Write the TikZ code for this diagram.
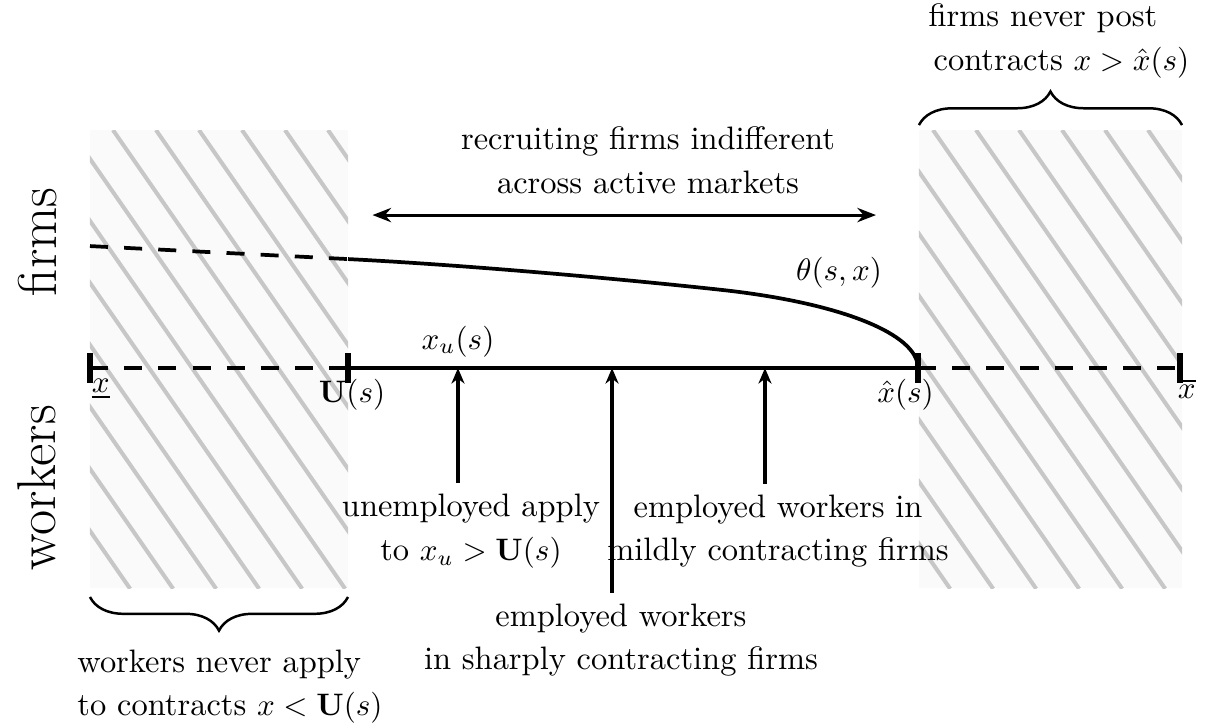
\documentclass[tikz,border=0pt]{standalone}
\usepackage{amsmath,amssymb}
\usetikzlibrary{arrows.meta,decorations.pathreplacing,positioning}

\begin{document}
\begin{tikzpicture}[
    font=\fontsize{10.45}{12.6}\selectfont,
    >=Stealth,
    axis/.style       = {line width=1.4pt},
    axis-dash/.style  = {axis, dash pattern=on 5.8pt off 5.2pt},
    tickmark/.style   = {line width=1.7pt},
    theta/.style      = {line width=1.2pt},
    theta-dash/.style = {theta, dash pattern=on 5.8pt off 5.2pt},
    pointer/.style    = {line width=1.3pt, -{Stealth[length=5pt, width=4.2pt, inset=1.6pt]}},
    across/.style     = {line width=1pt, {Stealth[length=6pt, width=4.6pt, inset=2pt]}-{Stealth[length=6pt, width=4.6pt, inset=2pt]}},
    excluded/.style   = {fill=black!2},
    hatch/.style      = {black!22, line width=1.3pt},
    bracket/.style    = {thick, decorate, decoration={brace, amplitude=0.38cm}},
    side/.style       = {font=\fontsize{17.6}{21}\selectfont, rotate=90},
    note/.style       = {align=center}
  ]
\useasboundingbox (0,0) rectangle (13.689,8.225);

% =========================================================
% Excluded regions (hatched)
% =========================================================
\fill[excluded] (1.018,1.572) rectangle (3.937,6.754);
\begin{scope}
  \clip (1.018,1.572) rectangle (3.937,6.754);
  \foreach \i in {-8,...,6} {\draw[hatch] ({1.278+\i*0.4865},6.754) -- ++(3.6,-5.19);}
\end{scope}

\fill[excluded] (10.396,1.572) rectangle (13.372,6.754);
\begin{scope}
  \clip (10.396,1.572) rectangle (13.372,6.754);
  \foreach \i in {-8,...,6} {\draw[hatch] ({10.555+\i*0.4865},6.754) -- ++(3.6,-5.19);}
\end{scope}

% =========================================================
% Contract axis
% =========================================================
\coordinate (xlow)  at (1.018,4.061);
\coordinate (U)     at (3.937,4.061);
\coordinate (xhat)  at (10.385,4.061);
\coordinate (xhigh) at (13.349,4.061);
\coordinate (a1)    at (5.181,4.061);
\coordinate (a2)    at (6.924,4.061);
\coordinate (a3)    at (8.654,4.061);

\draw[axis-dash] (xlow) -- (U);
\draw[axis] (U) -- (xhat);
\draw[axis-dash] (xhat) -- (xhigh);
\foreach \p in {xlow,U,xhat,xhigh} {\draw[tickmark] (\p) ++(0,0.165) -- ++(0,-0.33);}

\node[below, xshift=3.5pt] (lbl-xlow)  at (xlow)  {$\underline{x}$};
\node[below, xshift=1.3pt] (lbl-U)     at (U)     {$\mathbf{U}(s)$};
\node[below, xshift=-4pt]  (lbl-xhat)  at (xhat)  {$\hat{x}(s)$};
\node[below, xshift=2.2pt] (lbl-xhigh) at (xhigh) {$\overline{x}$};

% Market tightness theta(s,x)
\coordinate (th0) at (1.018,5.441);
\coordinate (thU) at (3.937,5.294);
\coordinate (thm) at (8.176,4.944);
\draw[theta-dash] (th0) -- (thU);
\draw[theta] (thU) .. controls (5.3,5.225) and (7.1,5.062) .. (thm)
                   .. controls (9.5,4.798) and (10.385,4.45) .. (xhat);
\node (theta-lbl) at (9.492,5.136) {$\theta(s,x)$};

% =========================================================
% Firms side
% =========================================================
\coordinate (mk-l) at (4.214,5.792);
\coordinate (mk-r) at (9.910,5.792);
\draw[across] (mk-l) -- (mk-r);
\node[note] (recruit) at (7.331,6.414) {recruiting firms indifferent\\[1.5pt] across active markets};

\coordinate (br-tl) at (10.396,6.810);
\coordinate (br-tr) at (13.372,6.810);
\draw[bracket] (br-tl) -- (br-tr);
\node[align=left] (post) at (11.98,7.76) {firms never post\\[1.5pt]\hspace*{1.6pt}contracts $x > \hat{x}(s)$};

% =========================================================
% Workers side
% =========================================================
\node[above] (xu) at (a1) {$x_u(s)$};

\node[note] (unemp) at (5.328,2.217) {unemployed apply\\[1.5pt] to $x_u > \mathbf{U}(s)$};
\node[note] (mild)  at (8.802,2.217) {employed workers in\\[1.5pt] mildly contracting firms};
\node[note] (sharp) at (7.025,0.984) {employed workers\\[1.5pt] in sharply contracting firms};
\draw[pointer] (unemp.north -| a1) -- (a1);
\draw[pointer] (sharp.north -| a2) -- (a2);
\draw[pointer] (mild.north -| a3) -- (a3);

\coordinate (br-bl) at (1.018,1.471);
\coordinate (br-br) at (3.937,1.471);
\draw[bracket] (br-br) -- (br-bl);
\node[align=left] (apply) at (2.602,0.458) {workers never apply\\[1.5pt] to contracts $x < \mathbf{U}(s)$};

% Side labels
\node[side] (firms)   at (0.419,5.487) {firms};
\node[side] (workers) at (0.419,2.704) {workers};

\end{tikzpicture}
\end{document}
